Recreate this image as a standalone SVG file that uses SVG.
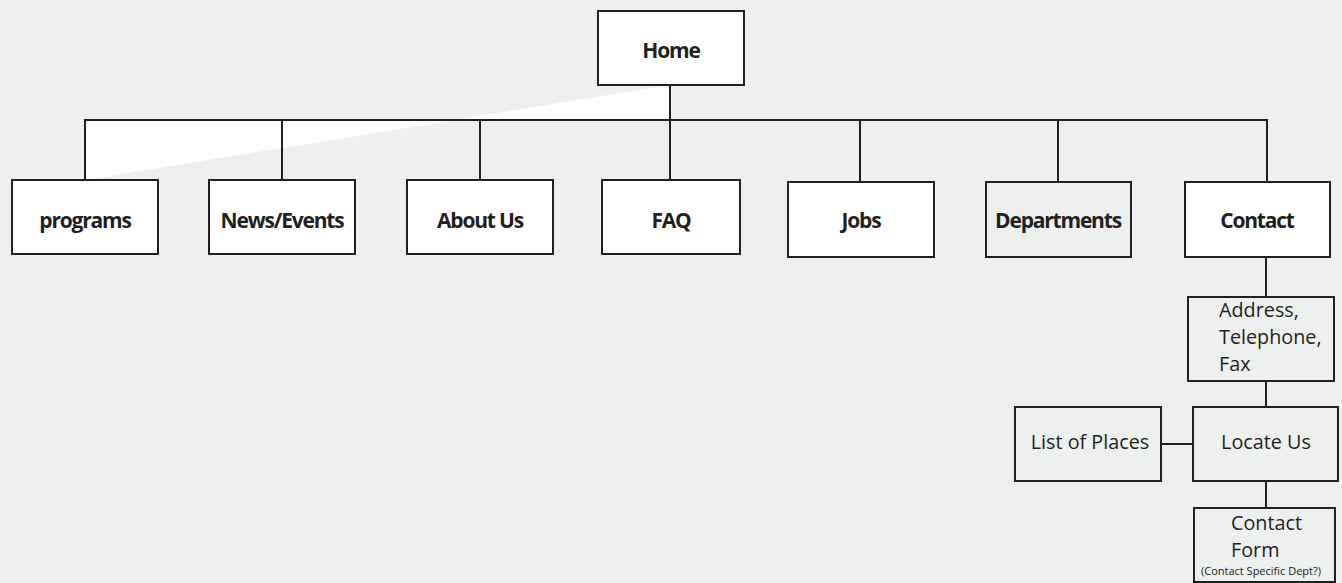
<svg xmlns="http://www.w3.org/2000/svg" width="1342" height="583" viewBox="0 0 1342 583">
  <style>
    .box { stroke: #231f20; stroke-width: 2; }
    .white { fill: #ffffff; }
    .grey { fill: #eef0ef; }
    .conn { fill: none; stroke: #231f20; stroke-width: 2; }
    .bold { font-family: "Open Sans", "Liberation Sans", sans-serif; font-weight: 700; font-size: 21px; letter-spacing: -1.2px; fill: #231f20; text-anchor: middle; }
    .reg { font-family: "Open Sans", "Liberation Sans", sans-serif; font-size: 19.8px; fill: #231f20; }
    .small { font-family: "Open Sans", "Liberation Sans", sans-serif; font-size: 11px; fill: #231f20; }
  </style>
  <rect width="1342" height="583" fill="#eef0ef"/>

  <!-- white fill left behind by the first connector run -->
  <polygon points="670,85 670,120 85,120 85,180" fill="#ffffff"/>

  <g id="connectors">
    <line class="conn" x1="670" y1="85" x2="670" y2="120"/>
    <line class="conn" x1="84" y1="120" x2="1268" y2="120"/>
    <line class="conn" x1="85" y1="120" x2="85" y2="180"/>
    <line class="conn" x1="282" y1="120" x2="282" y2="180"/>
    <line class="conn" x1="480" y1="120" x2="480" y2="180"/>
    <line class="conn" x1="670" y1="120" x2="670" y2="180"/>
    <line class="conn" x1="860" y1="120" x2="860" y2="182"/>
    <line class="conn" x1="1058" y1="120" x2="1058" y2="182"/>
    <line class="conn" x1="1267" y1="120" x2="1267" y2="182"/>
    <line class="conn" x1="1266" y1="257" x2="1266" y2="297"/>
    <line class="conn" x1="1266" y1="381" x2="1266" y2="407"/>
    <line class="conn" x1="1161" y1="444" x2="1193" y2="444"/>
    <line class="conn" x1="1266" y1="481" x2="1266" y2="508"/>
  </g>

  <g id="home">
    <rect class="box white" x="598" y="11" width="146" height="74"/>
    <text class="bold" x="671" y="58">Home</text>
  </g>
  <g id="programs">
    <rect class="box white" x="12" y="180" width="146" height="74"/>
    <text class="bold" x="85" y="228">programs</text>
  </g>
  <g id="news-events">
    <rect class="box white" x="209" y="180" width="146" height="74"/>
    <text class="bold" x="282" y="228">News/Events</text>
  </g>
  <g id="about-us">
    <rect class="box white" x="407" y="180" width="146" height="74"/>
    <text class="bold" x="480" y="228">About Us</text>
  </g>
  <g id="faq">
    <rect class="box white" x="602" y="180" width="138" height="74"/>
    <text class="bold" x="671" y="228">FAQ</text>
  </g>
  <g id="jobs">
    <rect class="box white" x="788" y="182" width="146" height="75"/>
    <text class="bold" x="861" y="228">Jobs</text>
  </g>
  <g id="departments">
    <rect class="box grey" x="986" y="182" width="145" height="75"/>
    <text class="bold" x="1058" y="228">Departments</text>
  </g>
  <g id="contact">
    <rect class="box white" x="1185" y="182" width="145" height="75"/>
    <text class="bold" x="1257" y="228">Contact</text>
  </g>
  <g id="address">
    <rect class="box grey" x="1188" y="297" width="146" height="84"/>
    <text class="reg" x="1219" y="317">Address,</text>
    <text class="reg" x="1219" y="344">Telephone,</text>
    <text class="reg" x="1219" y="371">Fax</text>
  </g>
  <g id="list-of-places">
    <rect class="box grey" x="1015" y="407" width="146" height="74"/>
    <text class="reg" x="1090" y="449" text-anchor="middle">List of Places</text>
  </g>
  <g id="locate-us">
    <rect class="box grey" x="1193" y="407" width="145" height="74"/>
    <text class="reg" x="1266" y="449" text-anchor="middle">Locate Us</text>
  </g>
  <g id="contact-form">
    <rect class="box grey" x="1194" y="508" width="141" height="74"/>
    <text class="reg" x="1231" y="530">Contact</text>
    <text class="reg" x="1231" y="557">Form</text>
    <text class="small" x="1261" y="575" text-anchor="middle">(Contact Specific Dept?)</text>
  </g>
</svg>
